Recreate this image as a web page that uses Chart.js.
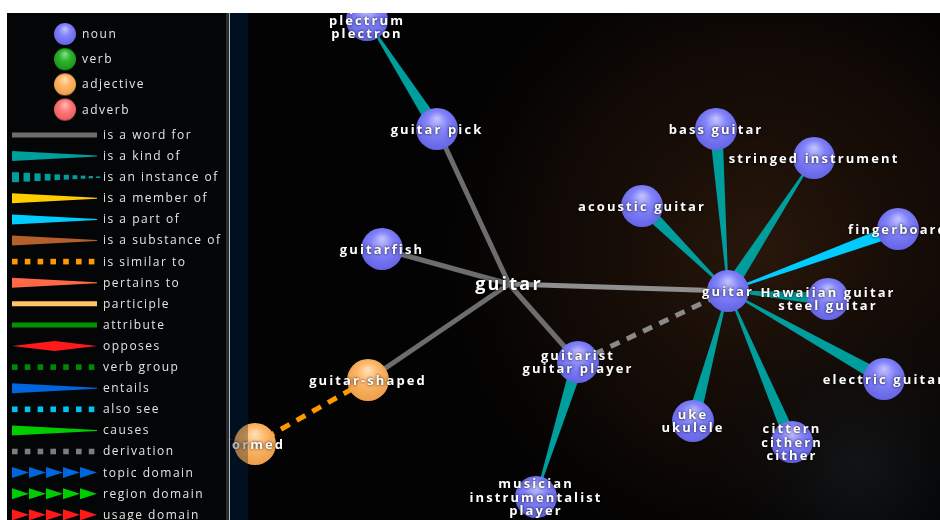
<!DOCTYPE html>
<html>
<head>
<meta charset="utf-8">
<script src="https://cdn.jsdelivr.net/npm/chart.js@4.4.1/dist/chart.umd.min.js"></script>
<style>
  html, body { margin: 0; padding: 0; background: #fff; }
  #wrap { width: 940px; height: 520px; }
</style>
</head>
<body>
<div id="wrap"><canvas id="graph" width="940" height="520"></canvas></div>
<script>
// Nós do grafo (posição em unidades de layout, classe gramatical)
const NODE_LABELS = [
  'guitar', 'guitar', 'pick\nplectrum\nplectron', 'guitar pick', 'guitarfish',
  'guitar-shaped', 'formed', 'guitarist\nguitar player', 'musician\ninstrumentalist\nplayer',
  'acoustic guitar', 'bass guitar', 'stringed instrument', 'fingerboard',
  'Hawaiian guitar\nsteel guitar', 'electric guitar', 'uke\nukulele', 'cittern\ncithern\ncither'
];
const NODE_POS = [
  'word', 'noun', 'noun', 'noun', 'noun', 'adjective', 'adjective', 'noun', 'noun',
  'noun', 'noun', 'noun', 'noun', 'noun', 'noun', 'noun', 'noun'
];
const NODE_X = [279, 498, 137, 207, 152, 138, 25, 348, 306, 412, 486, 584, 668, 598, 654, 463, 562];
const NODE_Y = [271, 278, 7, 116, 236, 367, 431, 349, 484, 193, 116, 145, 216, 286, 366, 408, 429];

// Arestas: origem -> destino, tipo de relação
const EDGE_FROM = [3, 3, 4, 5, 7, 1, 7, 5, 7, 9, 10, 1, 12, 13, 14, 15, 16];
const EDGE_TO   = [2, 0, 0, 0, 0, 0, 1, 6, 8, 1, 1, 11, 1, 1, 1, 1, 1];
const EDGE_TYPE = ['kind', 'word', 'word', 'word', 'word', 'word', 'derivation', 'similar',
  'kind', 'kind', 'kind', 'kind', 'part', 'kind', 'kind', 'kind', 'kind'];

// Legenda
const POS_NAMES = ['noun', 'verb', 'adjective', 'adverb'];
const REL_KEYS = ['word', 'kind', 'instance', 'member', 'part', 'substance', 'similar',
  'pertains', 'participle', 'attribute', 'opposes', 'verbGroup', 'entails', 'alsoSee',
  'causes', 'derivation', 'topic', 'region', 'usage'];
const REL_NAMES = ['is a word for', 'is a kind of', 'is an instance of', 'is a member of',
  'is a part of', 'is a substance of', 'is similar to', 'pertains to', 'participle',
  'attribute', 'opposes', 'verb group', 'entails', 'also see', 'causes', 'derivation',
  'topic domain', 'region domain', 'usage domain'];

const FOCUS = 1;

const POS_COLORS = {
  noun: ['#c4c4ff', '#8282fa', '#6262e4'],
  verb: ['#8fe08f', '#2fb52f', '#1a8f1a'],
  adjective: ['#ffe0b8', '#ffb768', '#eb9c48'],
  adverb: ['#ffc0c0', '#ff7a7a', '#e65a5a']
};

const REL_STYLE = {
  word: { shape: 'line', color: '#6d6d6d' },
  kind: { shape: 'taper', color: '#009d9d' },
  instance: { shape: 'dashTaper', color: '#009d9d' },
  member: { shape: 'taper', color: '#ffcc00' },
  part: { shape: 'taper', color: '#00ccff' },
  substance: { shape: 'taper', color: '#b5602a' },
  similar: { shape: 'dash', color: '#ff9900' },
  pertains: { shape: 'taper', color: '#ff6845' },
  participle: { shape: 'line', color: '#ffc266' },
  attribute: { shape: 'line', color: '#009400' },
  opposes: { shape: 'diamond', color: '#ff1a1a' },
  verbGroup: { shape: 'dash', color: '#008a00' },
  entails: { shape: 'taper', color: '#0066dd' },
  alsoSee: { shape: 'dash', color: '#00c4f0' },
  causes: { shape: 'taper', color: '#00cc00' },
  derivation: { shape: 'dash', color: '#7c7c7c' },
  topic: { shape: 'arrows', color: '#0066dd' },
  region: { shape: 'arrows', color: '#00cc00' },
  usage: { shape: 'arrows', color: '#ff1a1a' }
};

function makeSphere(pos, r) {
  const c = document.createElement('canvas');
  c.width = c.height = r * 2 + 2;
  const g = c.getContext('2d');
  const cx = r + 1, cy = r + 1;
  const [hi, mid, lo] = POS_COLORS[pos];
  const grad = g.createRadialGradient(cx, cy - r * 0.5, 0, cx, cy - r * 0.1, r * 1.15);
  grad.addColorStop(0, hi);
  grad.addColorStop(0.45, mid);
  grad.addColorStop(1, lo);
  g.fillStyle = grad;
  g.beginPath();
  g.arc(cx, cy, r, 0, Math.PI * 2);
  g.fill();
  return c;
}

const SPHERES = { noun: makeSphere('noun', 21), adjective: makeSphere('adjective', 21) };

function taper(ctx, x1, y1, x2, y2, w1, w2) {
  const dx = x2 - x1, dy = y2 - y1, len = Math.hypot(dx, dy) || 1;
  const nx = -dy / len, ny = dx / len;
  ctx.beginPath();
  ctx.moveTo(x1 + nx * w1 / 2, y1 + ny * w1 / 2);
  ctx.lineTo(x2 + nx * w2 / 2, y2 + ny * w2 / 2);
  ctx.lineTo(x2 - nx * w2 / 2, y2 - ny * w2 / 2);
  ctx.lineTo(x1 - nx * w1 / 2, y1 - ny * w1 / 2);
  ctx.closePath();
  ctx.fill();
}

function strokeLine(ctx, x1, y1, x2, y2, width, color, dash) {
  ctx.save();
  ctx.strokeStyle = color;
  ctx.lineWidth = width;
  ctx.setLineDash(dash || []);
  ctx.beginPath();
  ctx.moveTo(x1, y1);
  ctx.lineTo(x2, y2);
  ctx.stroke();
  ctx.restore();
}

// Ícone da legenda para cada relação
function drawRelIcon(ctx, key, x1, x2, y) {
  const s = REL_STYLE[key];
  ctx.fillStyle = s.color;
  if (s.shape === 'line') {
    strokeLine(ctx, x1, y, x2, y, 5, s.color);
  } else if (s.shape === 'taper') {
    taper(ctx, x1, y, x2, y, 10, 1);
  } else if (s.shape === 'dash') {
    for (let x = x1; x < x2; x += 12.8) {
      ctx.fillRect(x, y - 2.8, 5.6, 5.6);
    }
  } else if (s.shape === 'dashTaper') {
    let x = x1;
    while (x < x2) {
      const t = (x - x1) / (x2 - x1);
      const h = 10 - 8.5 * t;
      const w = 7 - 3 * t;
      ctx.fillRect(x, y - h / 2, w, h);
      x += w + 4.5 - 1.5 * t;
    }
  } else if (s.shape === 'diamond') {
    const mx = (x1 + x2) / 2;
    ctx.beginPath();
    ctx.moveTo(x1, y);
    ctx.lineTo(mx, y - 5);
    ctx.lineTo(x2, y);
    ctx.lineTo(mx, y + 5);
    ctx.closePath();
    ctx.fill();
  } else if (s.shape === 'arrows') {
    const step = (x2 - x1) / 5;
    for (let k = 0; k < 5; k++) {
      const ax = x1 + k * step;
      ctx.beginPath();
      ctx.moveTo(ax, y - 5.5);
      ctx.lineTo(ax + step, y);
      ctx.lineTo(ax, y + 5.5);
      ctx.closePath();
      ctx.fill();
    }
  }
}

const graphPlugin = {
  id: 'graph',
  beforeDraw(chart) {
    const { ctx, chartArea: a } = chart;
    ctx.save();
    ctx.fillStyle = '#030303';
    ctx.fillRect(a.left, a.top, a.right - a.left, a.bottom - a.top);
    const glow = ctx.createRadialGradient(760, 250, 10, 760, 250, 360);
    glow.addColorStop(0, 'rgba(46, 26, 12, 0.85)');
    glow.addColorStop(0.6, 'rgba(30, 16, 8, 0.45)');
    glow.addColorStop(1, 'rgba(0, 0, 0, 0)');
    ctx.fillStyle = glow;
    ctx.fillRect(a.left, a.top, a.right - a.left, a.bottom - a.top);
    const haze = ctx.createRadialGradient(860, 470, 5, 860, 470, 200);
    haze.addColorStop(0, 'rgba(20, 28, 34, 0.6)');
    haze.addColorStop(1, 'rgba(0, 0, 0, 0)');
    ctx.fillStyle = haze;
    ctx.fillRect(a.left, a.top, a.right - a.left, a.bottom - a.top);
    // faixa azul escura ao lado do painel
    ctx.fillStyle = '#01111f';
    ctx.fillRect(a.left, a.top, 18, a.bottom - a.top);
    ctx.restore();
  },
  beforeDatasetsDraw(chart) {
    const { ctx, chartArea: a, scales: { x, y } } = chart;
    ctx.save();
    ctx.beginPath();
    ctx.rect(a.left, a.top, a.right - a.left, a.bottom - a.top);
    ctx.clip();
    EDGE_FROM.forEach((from, k) => {
      const to = EDGE_TO[k];
      const x1 = x.getPixelForValue(NODE_X[from]), y1 = y.getPixelForValue(NODE_Y[from]);
      const x2 = x.getPixelForValue(NODE_X[to]), y2 = y.getPixelForValue(NODE_Y[to]);
      const s = REL_STYLE[EDGE_TYPE[k]];
      if (s.shape === 'line') {
        const col = (from === FOCUS || to === FOCUS) ? '#8f8f8f' : s.color;
        strokeLine(ctx, x1, y1, x2, y2, 5, col);
      } else if (s.shape === 'dash') {
        const col = EDGE_TYPE[k] === 'derivation' ? '#8a8a8a' : s.color;
        strokeLine(ctx, x1, y1, x2, y2, 5, col, [10, 8]);
      } else {
        ctx.fillStyle = s.color;
        taper(ctx, x1, y1, x2, y2, 13, 1);
      }
    });
    ctx.restore();
  },
  afterDatasetsDraw(chart) {
    const { ctx, chartArea: a, scales: { x, y } } = chart;
    ctx.save();
    ctx.beginPath();
    ctx.rect(a.left, a.top, a.right - a.left, a.bottom - a.top);
    ctx.clip();
    ctx.textAlign = 'center';
    ctx.textBaseline = 'middle';
    ctx.fillStyle = '#ffffff';
    ctx.shadowColor = 'rgba(0, 0, 0, 0.95)';
    ctx.shadowBlur = 3;
    NODE_LABELS.forEach((label, i) => {
      const px = x.getPixelForValue(NODE_X[i]);
      const py = y.getPixelForValue(NODE_Y[i]);
      const isWord = NODE_POS[i] === 'word';
      ctx.font = isWord ? 'bold 18px "Open Sans"' : 'bold 13px "Open Sans"';
      ctx.letterSpacing = isWord ? '2.2px' : '2.1px';
      const lines = label.split('\n');
      const lh = 13.5;
      lines.forEach((line, j) => {
        ctx.fillText(line, px, py + (j - (lines.length - 1) / 2) * lh + 1);
      });
    });
    ctx.restore();
  },
  afterDraw(chart) {
    const { ctx } = chart;
    ctx.save();
    // painel da legenda
    ctx.fillStyle = '#040506';
    ctx.fillRect(7, 13, 219, 507);
    ctx.fillStyle = '#2c2c2e';
    ctx.fillRect(226, 13, 3, 507);
    ctx.fillStyle = 'rgba(0, 18, 36, 0.3)';
    ctx.fillRect(229, 13, 19, 507);

    ctx.textBaseline = 'middle';
    ctx.textAlign = 'left';
    ctx.font = '12px "Open Sans"';
    ctx.letterSpacing = '1.5px';
    POS_NAMES.forEach((name, i) => {
      const cy = 34 + i * 25.2;
      const sph = makeSphere(name, 11);
      ctx.drawImage(sph, 65 - sph.width / 2, cy - sph.height / 2);
      ctx.fillStyle = '#e4e4e4';
      ctx.fillText(name, 82, cy + 0.5);
    });
    REL_KEYS.forEach((key, i) => {
      const cy = 135 + i * 21.1;
      drawRelIcon(ctx, key, 12, 97, cy);
      ctx.fillStyle = '#e4e4e4';
      ctx.fillText(REL_NAMES[i], 103, cy + 0.5);
    });
    ctx.restore();
  }
};

const datasets = ['word', 'noun', 'adjective'].map(pos => ({
  label: pos,
  data: NODE_X.map((nx, i) => ({ x: nx, y: NODE_Y[i], pos: NODE_POS[i] })).filter(d => d.pos === pos),
  pointStyle: pos === 'word' ? 'circle' : SPHERES[pos],
  pointRadius: pos === 'word' ? 0 : 21,
  clip: 0
}));

new Chart(document.getElementById('graph'), {
  type: 'scatter',
  data: { datasets },
  options: {
    responsive: false,
    animation: false,
    events: [],
    layout: { autoPadding: false, padding: { left: 230, top: 13, right: 0, bottom: 0 } },
    plugins: { legend: { display: false }, tooltip: { enabled: false } },
    scales: {
      x: { type: 'linear', display: false, min: 0, max: 710 },
      y: { type: 'linear', display: false, min: 0, max: 507, reverse: true }
    }
  },
  plugins: [graphPlugin]
});
</script>
</body>
</html>
